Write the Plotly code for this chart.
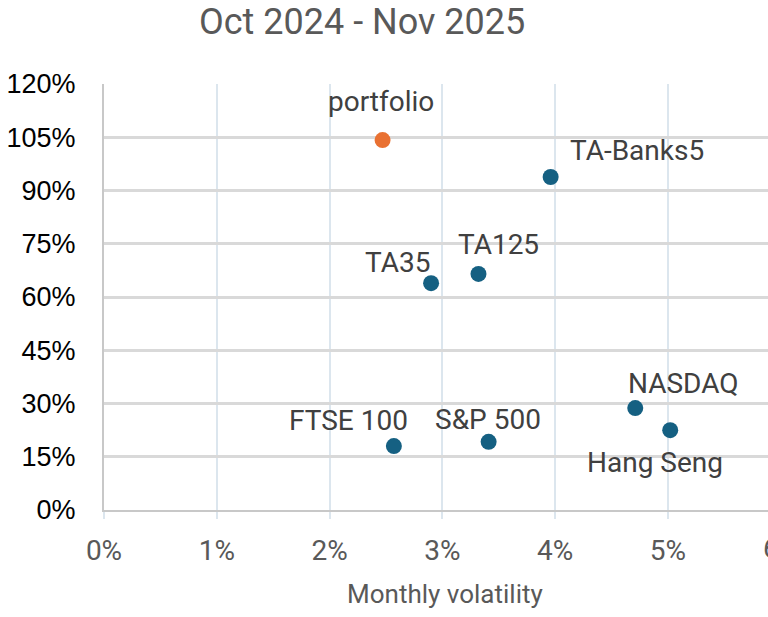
import plotly.graph_objects as go

# Data (monthly volatility %, return %)
names = ["portfolio", "TA-Banks5", "TA125", "TA35", "NASDAQ", "Hang Seng", "S&P 500", "FTSE 100"]
volatility = [2.47, 3.96, 3.32, 2.90, 4.71, 5.02, 3.41, 2.57]
returns = [104.2, 93.8, 66.5, 63.9, 28.7, 22.5, 19.2, 18.0]
colors = ["#E97132", "#156082", "#156082", "#156082", "#156082", "#156082", "#156082", "#156082"]

x_ticks = [0, 1, 2, 3, 4, 5, 6]
x_tick_labels = ["0%", "1%", "2%", "3%", "4%", "5%", "6%"]
y_ticks = [0, 15, 30, 45, 60, 75, 90, 105, 120]
y_tick_labels = ["0%", "15%", "30%", "45%", "60%", "75%", "90%", "105%", "120%"]

x_max_visible = 5.887

# label offsets in pixels (style)
label_dx = [-2, 86, 20, -34, 48, -15, -1, -45]
label_dy = [39, 27, 29, 21, 25, -32, 22, 26]

fig = go.Figure()
fig.add_trace(go.Scatter(
    x=volatility, y=returns, mode="markers",
    marker=dict(size=16, color=colors, line=dict(width=0)),
    hoverinfo="skip", cliponaxis=False,
))

for n, xv, yv, dx, dy in zip(names, volatility, returns, label_dx, label_dy):
    fig.add_annotation(
        x=xv, y=yv, xref="x", yref="y", text=n, showarrow=False,
        xshift=dx, yshift=dy, xanchor="center", yanchor="middle",
        font=dict(family="Roboto", size=28, color="#404040"),
    )

fig.add_annotation(
    text="Oct 2024 - Nov 2025", xref="paper", yref="paper",
    x=(362 - 104) / 664, y=1 + (84 - 22) / 426, xanchor="center", yanchor="middle",
    showarrow=False, font=dict(family="Roboto", size=36, color="#595959"),
)

fig.add_annotation(
    text="Monthly volatility", xref="paper", yref="paper",
    x=(445 - 104) / 664, y=-(594 - 510) / 426, xanchor="center", yanchor="middle",
    showarrow=False, font=dict(family="Roboto", size=26, color="#595959"),
)

# tick label of the last tick, which lies just past the right edge (cut off in the reference)
fig.add_annotation(
    text=x_tick_labels[-1], xref="paper", yref="paper",
    x=x_ticks[-1] / x_max_visible, y=-(548 - 510) / 426, xanchor="center", yanchor="middle",
    showarrow=False, font=dict(family="Roboto", size=28, color="#595959"),
)

fig.update_layout(
    width=768, height=617,
    margin=dict(l=104, r=0, t=84, b=107, pad=0, autoexpand=False),
    paper_bgcolor="white", plot_bgcolor="white",
    showlegend=False,
    xaxis=dict(
        range=[0, x_max_visible], tickvals=x_ticks, ticktext=x_tick_labels,
        showgrid=True, gridcolor="#DCE6EE", gridwidth=2,
        showline=True, linecolor="#C8C8C8", linewidth=2,
        ticks="outside", ticklen=7, tickcolor="#DCE6EE", tickwidth=2,
        tickfont=dict(family="Roboto", size=28, color="#595959"),
        zeroline=False, automargin=False,
        ticklabelstandoff=7,
    ),
    yaxis=dict(
        range=[0, 120], tickvals=y_ticks, ticktext=y_tick_labels,
        showgrid=True, gridcolor="#D9D9D9", gridwidth=3,
        showline=True, linecolor="#C8C8C8", linewidth=2,
        ticks="", zeroline=False, automargin=False,
        tickfont=dict(family="Liberation Sans", size=27, color="#000000"),
        ticklabelstandoff=21,
    ),
)

fig.write_html(
    "out.html",
    config={"displayModeBar": False},
    post_script="document.body.style.margin='0';document.body.style.overflow='hidden';",
)
